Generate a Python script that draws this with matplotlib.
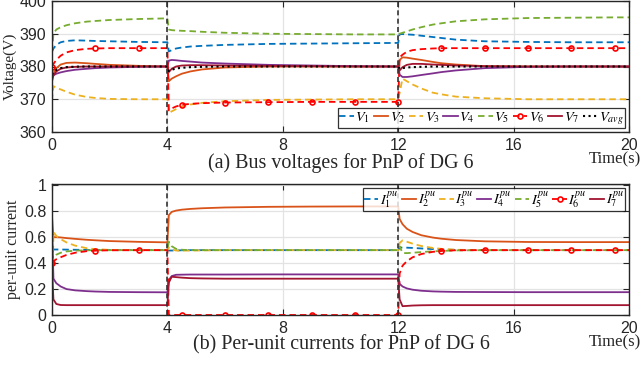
"""Bus voltages and per-unit currents for plug-and-play of DG 6."""

import matplotlib
matplotlib.use("Agg")
import matplotlib.pyplot as plt

plt.rcParams["mathtext.fontset"] = "stix"

SERIF = "Liberation Serif"
SANS = "Liberation Sans"
INK = "#262626"

# time base: three segments, duplicated sample at each switching instant (4 s, 12 s)
TIME = [0, 0.05, 0.15, 0.3, 0.5, 0.8, 1.2, 1.5, 2, 3, 4,
        4, 4.05, 4.15, 4.3, 4.5, 4.8, 5.2, 6, 7.5, 9, 10.5, 12,
        12, 12.05, 12.15, 12.3, 12.5, 12.8, 13.2, 13.5, 14, 15, 16.5, 18, 19.5, 20]
SWITCH_TIMES = [4, 12]
MARK_TIMES = [0, 1.5, 3, 4.5, 6, 7.5, 9, 10.5, 12, 13.5, 15, 16.5, 18, 19.5]

# bus voltages (V)
V1 = [384.5, 385.5, 386.6, 387.4, 387.8, 388.0, 387.9, 387.8, 387.7, 387.5, 387.4,
      387.4, 384.6, 385.0, 385.5, 385.8, 386.1, 386.3, 386.6, 386.9, 387.0, 387.1, 387.2,
      387.2, 389.9, 389.9, 389.8, 389.7, 389.4, 389.0, 388.7, 388.2, 387.7, 387.5, 387.4, 387.4, 387.4]
V2 = [376.5, 378.0, 379.5, 380.6, 381.1, 381.2, 381.0, 380.8, 380.5, 380.2, 380.0,
      380.0, 375.5, 376.3, 377.0, 377.8, 378.5, 379.1, 379.7, 380.0, 380.0, 380.0, 380.0,
      380.0, 382.0, 382.8, 382.7, 382.4, 382.0, 381.4, 381.0, 380.6, 380.1, 380.0, 380.0, 380.0, 380.0]
V3 = [369.5, 374.0, 373.5, 373.0, 372.3, 371.4, 370.7, 370.4, 370.1, 370.0, 370.0,
      370.0, 365.8, 366.3, 367.0, 367.8, 368.4, 368.9, 369.4, 369.8, 369.9, 370.0, 370.0,
      370.0, 372.0, 376.3, 375.5, 374.5, 373.3, 372.0, 371.5, 370.8, 370.3, 370.0, 370.0, 370.0, 370.0]
V4 = [377.0, 377.3, 377.8, 378.2, 378.6, 379.0, 379.3, 379.5, 379.7, 379.9, 380.0,
      380.0, 381.8, 382.0, 381.9, 381.7, 381.5, 381.2, 380.9, 380.5, 380.3, 380.1, 380.0,
      380.0, 377.5, 376.8, 376.8, 377.0, 377.4, 377.9, 378.3, 378.8, 379.5, 379.9, 380.0, 380.0, 380.0]
V5 = [384.5, 390.0, 391.3, 392.0, 392.6, 393.2, 393.7, 393.9, 394.2, 394.5, 394.7,
      394.7, 391.3, 391.1, 391.0, 390.9, 390.8, 390.6, 390.3, 390.0, 389.9, 389.8, 389.8,
      389.8, 390.0, 390.3, 390.7, 391.3, 392.0, 392.8, 393.2, 393.8, 394.4, 394.8, 394.9, 395.0, 395.0]
V6 = [380.0, 380.8, 382.0, 383.3, 384.3, 385.0, 385.4, 385.5, 385.6, 385.6, 385.6,
      385.6, 366.6, 367.2, 367.8, 368.3, 368.6, 368.8, 369.0, 369.1, 369.2, 369.2, 369.2,
      369.2, 382.8, 383.6, 384.5, 385.0, 385.3, 385.5, 385.6, 385.6, 385.6, 385.6, 385.6, 385.6, 385.6]
V7 = [375.5, 377.3, 378.5, 379.3, 379.7, 379.9, 380.0, 380.0, 380.0, 380.0, 380.0,
      380.0, 378.3, 379.3, 380.0, 380.3, 380.4, 380.4, 380.3, 380.2, 380.1, 380.0, 380.0,
      380.0, 378.8, 379.8, 380.5, 380.8, 380.8, 380.6, 380.5, 380.3, 380.1, 380.0, 380.0, 380.0, 380.0]
V_AVG = [377.5, 378.3, 379.0, 379.5, 379.8, 379.95, 380.0, 380.0, 380.0, 380.0, 380.0,
         380.0, 378.6, 379.0, 379.4, 379.6, 379.8, 379.9, 380.0, 380.0, 380.0, 380.0, 380.0,
         380.0, 379.3, 379.5, 379.7, 379.8, 379.9, 380.0, 380.0, 380.0, 380.0, 380.0, 380.0, 380.0, 380.0]

# per-unit currents
I1 = [0.50, 0.505, 0.505, 0.505, 0.504, 0.503, 0.502, 0.501, 0.500, 0.500, 0.500,
      0.500, 0.497, 0.497, 0.498, 0.499, 0.500, 0.500, 0.500, 0.500, 0.500, 0.500, 0.500,
      0.500, 0.520, 0.520, 0.519, 0.517, 0.513, 0.508, 0.505, 0.502, 0.500, 0.500, 0.500, 0.500, 0.500]
I2 = [0.76, 0.60, 0.60, 0.598, 0.593, 0.587, 0.580, 0.576, 0.570, 0.564, 0.560,
      0.560, 0.770, 0.795, 0.805, 0.812, 0.818, 0.823, 0.829, 0.834, 0.836, 0.837, 0.837,
      0.837, 0.740, 0.700, 0.665, 0.640, 0.615, 0.597, 0.588, 0.578, 0.568, 0.563, 0.562, 0.562, 0.562]
I3 = [0.0, 0.64, 0.61, 0.585, 0.56, 0.535, 0.515, 0.508, 0.502, 0.500, 0.500,
      0.500, 0.520, 0.505, 0.497, 0.496, 0.497, 0.498, 0.500, 0.500, 0.500, 0.500, 0.500,
      0.500, 0.555, 0.575, 0.565, 0.550, 0.532, 0.517, 0.510, 0.503, 0.500, 0.500, 0.500, 0.500, 0.500]
I4 = [0.70, 0.28, 0.245, 0.22, 0.20, 0.19, 0.184, 0.181, 0.178, 0.176, 0.175,
      0.175, 0.27, 0.30, 0.31, 0.311, 0.312, 0.312, 0.312, 0.313, 0.313, 0.313, 0.313,
      0.313, 0.24, 0.22, 0.205, 0.195, 0.187, 0.182, 0.180, 0.178, 0.177, 0.176, 0.176, 0.176, 0.176]
I5 = [0.39, 0.44, 0.465, 0.48, 0.49, 0.496, 0.499, 0.500, 0.500, 0.500, 0.500,
      0.500, 0.565, 0.530, 0.510, 0.503, 0.500, 0.500, 0.500, 0.500, 0.500, 0.500, 0.500,
      0.500, 0.530, 0.478, 0.477, 0.480, 0.485, 0.491, 0.494, 0.498, 0.500, 0.500, 0.500, 0.500, 0.500]
I6 = [0.40, 0.415, 0.43, 0.445, 0.463, 0.48, 0.492, 0.496, 0.499, 0.500, 0.500,
      0.500, 0.0, 0.0, 0.0, 0.0, 0.0, 0.0, 0.0, 0.0, 0.0, 0.0, 0.0,
      0.0, 0.32, 0.38, 0.415, 0.445, 0.47, 0.487, 0.494, 0.499, 0.500, 0.500, 0.500, 0.500, 0.500]
I7 = [0.35, 0.12, 0.085, 0.077, 0.076, 0.076, 0.076, 0.076, 0.076, 0.076, 0.076,
      0.076, 0.25, 0.295, 0.292, 0.288, 0.284, 0.282, 0.280, 0.280, 0.280, 0.280, 0.280,
      0.280, 0.12, 0.068, 0.070, 0.073, 0.075, 0.076, 0.076, 0.076, 0.076, 0.076, 0.076, 0.076, 0.076]

COLORS = ["#0072BD", "#D95319", "#EDB120", "#7E2F8E", "#77AC30", "#FF0000", "#A2142F"]
STYLES = ["--", "-", "--", "-", "--", "--", "-"]
V_LABELS = [r"$V_{%d}$" % k for k in range(1, 8)] + [r"$V_{avg}$"]
I_LABELS = [r"$I_{%d}^{pu}$" % k for k in range(1, 8)]
X_TICKS = [0, 4, 8, 12, 16, 20]


def mark_indices():
    # first sample at each marker time (pre-switch value at 12 s)
    return [i for i, t in enumerate(TIME)
            if t in MARK_TIMES and (i == 0 or TIME[i - 1] != t)]


def draw_series(ax, series, labels):
    handles = []
    for k, vals in enumerate(series):
        kw = dict(color=COLORS[k], linestyle=STYLES[k], linewidth=1.3, label=labels[k])
        if STYLES[k] == "--":
            kw["dashes"] = (3.6, 2.2)
        if k == 5:
            kw.update(marker="o", markersize=3.6, markerfacecolor="none",
                      markeredgewidth=1.2, markevery=mark_indices())
        (ln,) = ax.plot(TIME, vals, **kw)
        handles.append(ln)
    return handles


def style_axes(ax):
    ax.set_xlim(0, 20)
    ax.set_xticks(X_TICKS)
    ax.grid(True, color="#e3e3e3", linewidth=0.9)
    ax.set_axisbelow(True)
    ax.tick_params(direction="in", length=4, width=0.8, top=True, right=True,
                   colors=INK, labelsize=11.5, pad=4)
    for lab in ax.get_xticklabels() + ax.get_yticklabels():
        lab.set_fontfamily(SANS)
    for sp in ax.spines.values():
        sp.set_color(INK)
        sp.set_linewidth(1.0)
    for t in SWITCH_TIMES:
        ax.axvline(t, color="#333333", linestyle="--", dashes=(3, 2), linewidth=1.2, zorder=5)


def legend(ax, handles, loc, pad):
    leg = ax.legend(handles=handles, loc=loc, ncol=len(handles), fontsize=10.3, frameon=True,
                    fancybox=False, edgecolor="black", handlelength=1.0, handletextpad=0.12,
                    columnspacing=0.25, borderpad=pad, borderaxespad=0.25)
    leg.get_frame().set_linewidth(0.9)
    return leg


def main():
    fig = plt.figure(figsize=(6.41, 3.65), dpi=100)
    W, H = 641, 365

    ax1 = fig.add_axes([52 / W, 1 - 132 / H, 577 / W, 131 / H])
    h1 = draw_series(ax1, [V1, V2, V3, V4, V5, V6, V7], V_LABELS)
    (avg,) = ax1.plot(TIME, V_AVG, color="black", linestyle=":", linewidth=1.5, label=V_LABELS[7])
    h1.append(avg)
    ax1.set_ylim(360, 400)
    ax1.set_yticks([360, 370, 380, 390, 400])
    style_axes(ax1)
    ax1.set_ylabel("Voltage(V)", fontfamily=SERIF, fontsize=11, color=INK, labelpad=2)
    legend(ax1, h1, "lower right", 0.12)

    ax2 = fig.add_axes([52 / W, 1 - 315 / H, 577 / W, 131 / H])
    h2 = draw_series(ax2, [I1, I2, I3, I4, I5, I6, I7], I_LABELS)
    ax2.set_ylim(0, 1.01)
    ax2.set_yticks([0, 0.2, 0.4, 0.6, 0.8, 1.0])
    ax2.set_yticklabels(["0", "0.2", "0.4", "0.6", "0.8", "1"])
    style_axes(ax2)
    ax2.set_ylabel("per-unit current", fontfamily=SERIF, fontsize=11.5, color=INK, labelpad=2)
    legend(ax2, h2, "upper right", 0.08)

    fig.text(341 / W, 1 - 163 / H, "(a) Bus voltages for PnP of DG 6", ha="center", va="center",
             fontfamily=SERIF, fontsize=14.4, color=INK)
    fig.text(641 / W, 1 - 159 / H, "Time(s)", ha="right", va="center",
             fontfamily=SERIF, fontsize=12, color=INK)
    fig.text(341 / W, 1 - 345 / H, "(b) Per-unit currents for PnP of DG 6", ha="center", va="center",
             fontfamily=SERIF, fontsize=14.4, color=INK)
    fig.text(641 / W, 1 - 342 / H, "Time(s)", ha="right", va="center",
             fontfamily=SERIF, fontsize=12, color=INK)

    fig.savefig("out.png", dpi=100)
    plt.close(fig)


if __name__ == "__main__":
    main()
